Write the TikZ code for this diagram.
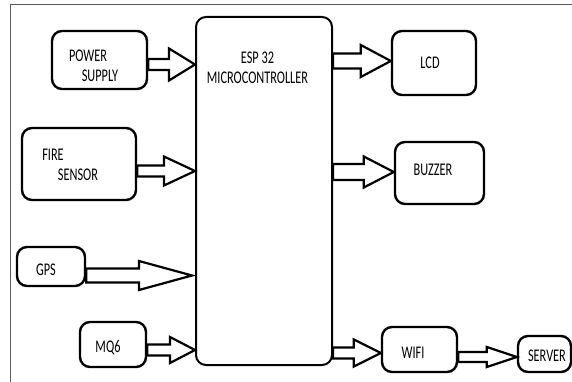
\documentclass[tikz,border=0pt]{standalone}
\usepackage{fontspec}
\setmainfont{Carlito}
\usetikzlibrary{calc}
\newcommand\vt[1]{\scalebox{1}[1.45]{#1}}
\newcommand\barrow[6]{% start, tip, shaft half, head half, head length, extra tip x shift
  \draw[arrowst] let \p1=#1, \p2=#2 in
    (\x1,\y1+#3) -- (\x2-#5,\y1+#3) -- (\x2-#5,\y1+#4) -- (\x2,\y1) --
    (\x2-#5,\y1-#4) -- (\x2-#5,\y1-#3) -- (\x1,\y1-#3) -- cycle;}
\begin{document}
\begin{tikzpicture}[x=1pt,y=-1pt,
  box/.style={draw=black,line width=2.4pt,rounded corners=10pt,fill=white,inner sep=0pt},
  lbl/.style={font=\fontsize{12.3pt}{14pt}\selectfont,inner sep=0pt,anchor=center},
  arrowst/.style={draw=black,fill=white,line width=2.2pt,line join=miter}]
\useasboundingbox (0,0) rectangle (572,382);
\fill[white] (0,0) rectangle (572,382);
\draw[gray!70!black,line width=1pt] (10,382) -- (10,4.5) -- (572,4.5);
% boxes
\node[box,line width=2pt,minimum width=136pt,minimum height=348pt] (esp) at (264,191) {};
\node[box,minimum width=95pt,minimum height=58pt] (ps) at (99.5,60) {};
\node[box,minimum width=114pt,minimum height=72pt] (fs) at (79,164) {};
\node[box,minimum width=68pt,minimum height=39pt] (gps) at (51,266.5) {};
\node[box,minimum width=66pt,minimum height=45pt] (mq) at (113,344.5) {};
\node[box,minimum width=84pt,minimum height=64pt] (lcd) at (434,63) {};
\node[box,minimum width=89pt,minimum height=62pt] (bz) at (439.5,173) {};
\node[box,minimum width=75pt,minimum height=45pt] (wifi) at (419.5,349.5) {};
\node[box,minimum width=53pt,minimum height=36pt] (srv) at (544.5,354) {};
% texts
\node[lbl] (espt1) at (257.5,57.5) {\vt{ESP 32}};
\node[lbl] (espt2) at (257.5,78) {\vt{MICROCONTROLLER}};
\node[lbl] (pst1) at (88,56) {\vt{POWER}};
\node[lbl] (pst2) at (100,76) {\vt{SUPPLY}};
\node[lbl] (fst1) at (53,155) {\vt{FIRE}};
\node[lbl] (fst2) at (78,175) {\vt{SENSOR}};
\node[lbl] (gpst) at (46,270) {\vt{GPS}};
\node[lbl] (mqt) at (108,348) {\vt{MQ6}};
\node[lbl] (lcdt) at (430,63) {\vt{LCD}};
\node[lbl] (bzt) at (433,170) {\vt{BUZZER}};
\node[lbl] (wifit) at (413,353) {\vt{WIFI}};
\node[lbl] (srvt) at (547,356) {\vt{SERVER}};
% arrows
\barrow{(ps.east |- 0,64.5)}{(esp.west |- 0,64.5)}{5.5pt}{16pt}{26pt}{0}
\barrow{(fs.east |- 0,171)}{(esp.west |- 0,171)}{5.5pt}{14.5pt}{31pt}{0}
\barrow{(gps.east |- 0,275.5)}{($(esp.west |- 0,275.5)+(-3,0)$)}{7pt}{14.5pt}{53pt}{0}
\barrow{(mq.east |- 0,350)}{(esp.west |- 0,350)}{5.5pt}{13pt}{25pt}{0}
\barrow{(esp.east |- 0,61)}{(lcd.west |- 0,61)}{7.5pt}{16pt}{30pt}{0}
\barrow{(esp.east |- 0,172)}{(bz.west |- 0,172)}{8pt}{15.5pt}{30pt}{0}
\barrow{(esp.east |- 0,353)}{(wifi.west |- 0,353)}{5.5pt}{13.5pt}{27pt}{0}
\barrow{(wifi.east |- 0,357)}{(srv.west |- 0,357)}{5pt}{10pt}{30pt}{0}
\end{tikzpicture}
\end{document}
